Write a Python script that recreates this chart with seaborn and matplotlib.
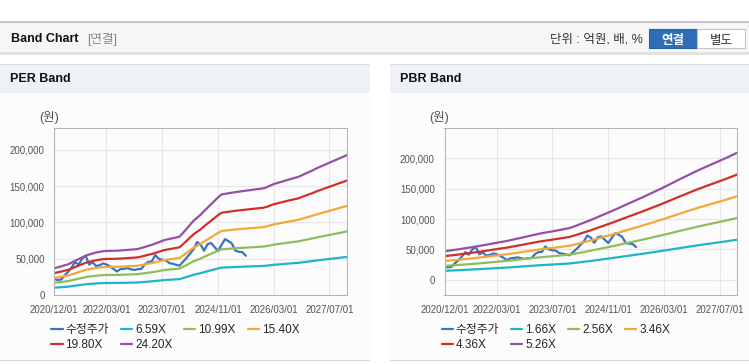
import matplotlib
matplotlib.use('Agg')
import matplotlib.pyplot as plt
from matplotlib.patches import Rectangle
from matplotlib.ticker import StrMethodFormatter
import seaborn as sns
import pandas as pd

# monthly x axis, 2020/12 .. 2027/12
months = pd.date_range('2020-12-01', '2027-12-01', freq='MS')
tick_labels = ['2020/12/01', '2022/03/01', '2023/07/01', '2024/11/01', '2026/03/01', '2027/07/01']

# 수정주가 (adjusted price), 2020/12 .. 2025/07
price = [22000, 20500, 21500, 27000, 32000, 38000, 45500, 41500, 50000, 54000,
         42000, 45000, 40000, 41000, 43500, 42000, 39500, 36000, 32500, 35500,
         36000, 37000, 35500, 34500, 35500, 36000, 42500, 45500, 46000, 55000,
         50000, 48500, 48000, 44000, 43000, 41500, 40500, 46000, 51500, 57000,
         63000, 73000, 69500, 61000, 70000, 71500, 66000, 60500, 69000, 77000,
         74000, 71000, 61000, 59500, 59000, 54000]

# EPS used for the PER band
per_eps = [1521, 1579, 1632, 1690, 1748, 1847, 1946, 2045, 2140, 2240,
           2302, 2364, 2417, 2455, 2492, 2508, 2512, 2517, 2521, 2533,
           2550, 2566, 2583, 2599, 2616, 2678, 2736, 2798, 2851, 2926,
           3000, 3079, 3145, 3186, 3231, 3273, 3322, 3545, 3773, 4000,
           4227, 4397, 4566, 4773, 4971, 5165, 5364, 5558, 5723, 5756,
           5789, 5822, 5855, 5884, 5909, 5938, 5963, 5992, 6017, 6045,
           6070, 6136, 6231, 6310, 6372, 6430, 6492, 6550, 6607, 6665,
           6719, 6810, 6901, 6992, 7083, 7174, 7269, 7355, 7442, 7529,
           7616, 7702, 7789, 7876, 7963]
per_multiples = [6.59, 10.99, 15.40, 19.80, 24.20]

# BPS used for the PBR band
pbr_bps = [8935, 9087, 9240, 9392, 9544, 9715, 9886, 10057, 10228, 10418,
           10608, 10798, 10989, 11198, 11407, 11597, 11787, 11977, 12167, 12414,
           12662, 12909, 13156, 13403, 13650, 13897, 14144, 14373, 14601, 14791,
           14981, 15171, 15380, 15589, 15798, 16008, 16236, 16635, 17034, 17452,
           17871, 18289, 18707, 19183, 19658, 20133, 20589, 21046, 21521, 22015,
           22490, 22966, 23460, 23935, 24430, 24924, 25418, 25913, 26426, 26939,
           27452, 27966, 28479, 28992, 29525, 30076, 30627, 31179, 31730, 32262,
           32795, 33327, 33859, 34392, 34867, 35342, 35817, 36293, 36768, 37243,
           37738, 38232, 38745, 39259, 39772]
pbr_multiples = [1.66, 2.56, 3.46, 4.36, 5.26]

colors = ['#3a74c0', '#1db5c8', '#8fbd5a', '#f4a83a', '#d0302c', '#9450a4']

sns.set_style('white')
plt.rcParams['font.family'] = ['Liberation Sans', 'Noto Sans CJK KR', 'DejaVu Sans']

W, H = 749, 364
fig = plt.figure(figsize=(W / 100, H / 100), dpi=100)


def fx(x):
    return x / W


def fy(y):
    return 1 - y / H


def rect(x0, y0, x1, y1, **kw):
    fig.patches.append(Rectangle((fx(x0), fy(y1)), fx(x1) - fx(x0), fy(y0) - fy(y1),
                                 transform=fig.transFigure, zorder=-10, **kw))


# top bar
rect(0, 22, 749, 53, facecolor='#f6f6f6', edgecolor='none')
rect(0, 21, 749, 22.5, facecolor='#c8c8c8', edgecolor='none')
rect(0, 52, 749, 55, facecolor='#e2e2e2', edgecolor='none')
fig.text(fx(11), fy(39), 'Band Chart', fontsize=9, fontweight='bold', color='#111', va='center')
fig.text(fx(87), fy(39), '[연결]', fontsize=9, color='#888', va='center')
fig.text(fx(643), fy(39), '단위 : 억원, 배, %', fontsize=9, color='#333', va='center', ha='right')
rect(649, 29, 697, 48, facecolor='#2f6db7', edgecolor='#2a62a6', lw=0.8)
rect(697, 29, 745, 48, facecolor='white', edgecolor='#c4c4c4', lw=0.8)
fig.text(fx(673), fy(41), '연결', fontsize=9, fontweight='bold', color='white', ha='center', va='center')
fig.text(fx(721), fy(41), '별도', fontsize=9, color='#333', ha='center', va='center')


def band_frame(multiples, base):
    parts = [pd.DataFrame({'date': months[:len(price)], 'value': price, 'series': '수정주가'})]
    for m in multiples:
        parts.append(pd.DataFrame({'date': months, 'value': [b * m for b in base],
                                   'series': f'{m:.2f}X'}))
    return pd.concat(parts, ignore_index=True)


panels = [
    ('PER Band', 0, 370, 54.3, band_frame(per_multiples, per_eps), (0, 230000)),
    ('PBR Band', 390, 749, 444.5, band_frame(pbr_multiples, pbr_bps), (-25000, 250000)),
]

for title, px0, px1, ax_left, df, ylim in panels:
    rect(px0, 64, px1, 360, facecolor='#fcfcfc', edgecolor='none')
    rect(px0, 64, px1, 93, facecolor='#eef1f5', edgecolor='none')
    rect(px0, 63.5, px1, 64.5, facecolor='#dcdcdc', edgecolor='none')
    rect(px0, 359.5, px1, 361, facecolor='#d6d6d6', edgecolor='none')
    fig.text(fx(px0 + 10), fy(79), title, fontsize=9, fontweight='bold', color='#111', va='center')
    fig.text(fx(ax_left - 15), fy(117), '(원)', fontsize=9, color='#555', va='center')

    ax = fig.add_axes([fx(ax_left), fy(295), 292.6 / W, 167 / H])
    ax.set_facecolor('#fcfcfc')
    sns.lineplot(data=df, x='date', y='value', hue='series', palette=colors,
                 linewidth=1.6, ax=ax)
    ax.set_xlim(months[0], months[-1])
    ax.set_ylim(*ylim)
    ax.set_yticks(range(0, 200001, 50000))
    ax.yaxis.set_major_formatter(StrMethodFormatter('{x:,.0f}'))
    ax.set_xticks(pd.to_datetime(tick_labels))
    ax.set_xticklabels(tick_labels)
    ax.set_xlabel('')
    ax.set_ylabel('')
    ax.grid(True, color='#e6e6e6', linewidth=0.8)
    ax.tick_params(length=0, labelsize=7, colors='#555', pad=7)
    for s in ax.spines.values():
        s.set_color('#b4b4b4')
        s.set_linewidth(0.8)

    # legend reads row by row: reorder for matplotlib's column filling
    handles, labels = ax.get_legend_handles_labels()
    order = [0, 4, 1, 5, 2, 3]
    ax.legend([handles[i] for i in order], [labels[i] for i in order], ncol=4,
              loc='upper left', bbox_to_anchor=(-0.01, -0.175),
              frameon=False, fontsize=8.5, handlelength=0.95, handletextpad=0.25,
              columnspacing=1.0, labelspacing=0.25, borderaxespad=0, borderpad=0)

fig.savefig('out.png', dpi=100, facecolor='white')
